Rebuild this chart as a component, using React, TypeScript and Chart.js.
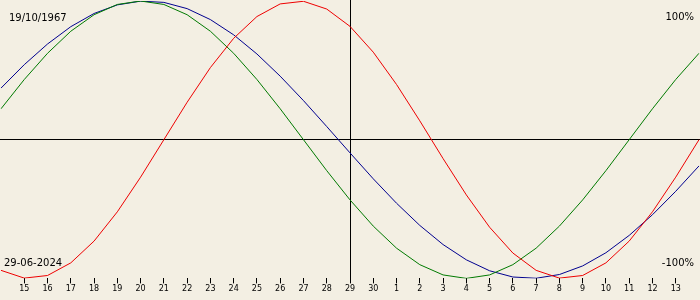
import { useEffect, useRef } from "react";
import { Chart, registerables } from "chart.js";

Chart.register(...registerables);

// Days shown: 14 June 2024 .. 14 July 2024 (first and last unlabeled)
const dayLabels = [
  "14", "15", "16", "17", "18", "19", "20", "21", "22", "23", "24", "25", "26", "27", "28", "29", "30",
  "1", "2", "3", "4", "5", "6", "7", "8", "9", "10", "11", "12", "13", "14",
];

// Percent values per day
const physical = [
  -94.2, -99.8, -97.9, -88.8, -73.1, -52.0, -27.0, 0.0, 27.0, 52.0, 73.1, 88.8, 97.9, 99.8, 94.2, 81.7,
  63.1, 39.8, 13.6, -13.6, -39.8, -63.1, -81.7, -94.2, -99.8, -97.9, -88.8, -73.1, -52.0, -27.0, 0.0,
];
const emotional = [
  22.3, 43.4, 62.3, 78.2, 90.1, 97.5, 100.0, 97.5, 90.1, 78.2, 62.3, 43.4, 22.3, 0.0, -22.3, -43.4,
  -62.3, -78.2, -90.1, -97.5, -100.0, -97.5, -90.1, -78.2, -62.3, -43.4, -22.3, 0.0, 22.3, 43.4, 62.3,
];
const intellectual = [
  37.2, 54.1, 69.0, 81.5, 91.0, 97.2, 99.9, 99.0, 94.5, 86.6, 75.6, 61.8, 45.8, 28.2, 9.5, -9.5,
  -28.2, -45.8, -61.8, -75.6, -86.6, -94.5, -99.0, -99.9, -97.2, -91.0, -81.5, -69.0, -54.1, -37.2, -18.9,
];

const birthDateText = "19/10/1967";
const currentDateText = "29-06-2024";
const todayIndex = 15;
const topText = "100%";
const bottomText = "-100%";

const BG = "#f3efe3";

export default function App() {
  const canvasRef = useRef<HTMLCanvasElement | null>(null);

  useEffect(() => {
    const canvas = canvasRef.current;
    if (!canvas) return;

    const overlay = {
      id: "bioOverlay",
      beforeDraw(chart: any) {
        const { ctx, width, height } = chart;
        ctx.save();
        ctx.fillStyle = BG;
        ctx.fillRect(0, 0, width, height);
        ctx.restore();
      },
      beforeDatasetsDraw(chart: any) {
        const { ctx, scales, chartArea } = chart;
        const y0 = Math.floor(scales.y.getPixelForValue(0)) + 0.5;
        const xt = Math.round(scales.x.getPixelForValue(todayIndex)) + 0.5;
        ctx.save();
        ctx.strokeStyle = "#000";
        ctx.lineWidth = 1;
        ctx.beginPath();
        ctx.moveTo(0, y0);
        ctx.lineTo(chart.width, y0);
        ctx.moveTo(xt, 0);
        ctx.lineTo(xt, chartArea.bottom + 2);
        ctx.stroke();
        ctx.restore();
      },
      afterDraw(chart: any) {
        const { ctx } = chart;
        ctx.save();
        ctx.fillStyle = "#000";
        ctx.font = '10px "DejaVu Sans"';
        ctx.textBaseline = "alphabetic";
        ctx.textAlign = "left";
        ctx.fillText(birthDateText, 9, 21);
        ctx.fillText(currentDateText, 4, 266);
        ctx.textAlign = "right";
        ctx.fillText(topText, 694, 20);
        ctx.fillText(bottomText, 694, 266);
        ctx.restore();
      },
    };

    const ds = (data: number[], color: string) => ({
      data,
      borderColor: color,
      borderWidth: 1,
      pointRadius: 0,
      tension: 0,
      fill: false,
    });

    const lastIdx = dayLabels.length - 1;

    const chart = new Chart(canvas, {
      type: "line",
      data: {
        labels: dayLabels,
        datasets: [
          ds(physical, "#ee0000"),
          ds(emotional, "#007a00"),
          ds(intellectual, "#00008f"),
        ],
      },
      options: {
        animation: false,
        responsive: false,
        devicePixelRatio: 1,
        layout: { padding: { top: 1, bottom: 5, left: 0, right: 0 } },
        plugins: { legend: { display: false }, tooltip: { enabled: false } },
        scales: {
          x: {
            type: "category",
            offset: false,
            border: { display: false },
            grid: {
              drawOnChartArea: false,
              drawTicks: true,
              tickLength: 5,
              tickColor: (c: any) =>
                c.index === 0 || c.index === lastIdx ? "rgba(0,0,0,0)" : "#000",
              color: "#000",
            },
            ticks: {
              autoSkip: false,
              maxRotation: 0,
              minRotation: 0,
              padding: 1,
              color: "#000",
              font: { family: "DejaVu Sans", size: 8 },
              callback: (_v: any, i: number) =>
                i === 0 || i === lastIdx ? "" : dayLabels[i],
            },
          },
          y: {
            display: false,
            min: -100,
            max: 100,
          },
        },
      },
      plugins: [overlay],
    });

    return () => chart.destroy();
  }, []);

  return (
    <div
      style={{
        position: "fixed",
        left: 0,
        top: 0,
        width: 700,
        height: 300,
        background: BG,
      }}
    >
      <canvas ref={canvasRef} width={700} height={300} style={{ display: "block" }} />
    </div>
  );
}
